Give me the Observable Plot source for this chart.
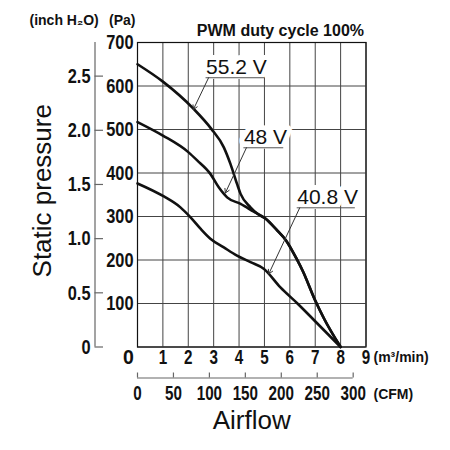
<!DOCTYPE html>
<html><head><meta charset="utf-8">
<script src="https://cdn.jsdelivr.net/npm/d3@7"></script>
<script src="https://cdn.jsdelivr.net/npm/@observablehq/plot@0.6"></script>
<style>
body{margin:0;background:#fff;}
#chart{width:450px;height:450px;}
</style></head><body><div id="chart"></div>
<script>
// Airflow (m³/min) and static pressure (Pa)
const airflow552 = [0, 1.0, 2.2, 2.9, 3.4, 3.66, 3.92, 4.06, 4.45, 4.75, 5.05, 5.5, 5.85, 6.3, 6.5, 7.0, 7.35, 8.0];
const pressure552 = [650, 610, 548, 502, 459, 421, 375, 352, 321, 305, 295, 268, 245, 199, 176, 107, 65, 0];
const airflow48 = [0, 1.0, 2.0, 2.35, 2.87, 3.2, 3.53, 4.06, 4.58, 5.05, 5.5, 5.85, 6.3, 6.5, 7.0, 7.35, 8.0];
const pressure48 = [517, 486, 448, 429, 398, 367, 344, 329, 311, 295, 268, 245, 199, 176, 107, 65, 0];
const airflow408 = [0, 1.04, 1.69, 2.09, 2.48, 2.87, 3.4, 3.92, 4.45, 4.97, 5.63, 6.3, 6.9, 8.0];
const pressure408 = [376, 346, 321, 298, 272, 249, 229, 210, 195, 180, 137, 100, 65, 0];

const seriesLabels = ["55.2 V", "48 V", "40.8 V"];
// callout anchors (data units): underline from x1 to x2 at y, arrow to (tipX, tipY)
const calloutX1 = [2.7, 4.19, 6.29];
const calloutX2 = [5.02, 5.76, 8.58];
const calloutY = [619, 458, 320];
const calloutTipX = [2.2, 3.46, 5.17];
const calloutTipY = [546, 354, 168];

const paTicks = [100, 200, 300, 400, 500, 600, 700];
const inchTicks = [0, 0.5, 1.0, 1.5, 2.0, 2.5];
const m3Ticks = [1, 2, 3, 4, 5, 6, 7, 8, 9];
const cfmTicks = [0, 50, 100, 150, 200, 250, 300];
const PA_PER_INCH = 249.089;
const M3MIN_PER_CFM = 0.0283168;

const series = [
  ...airflow552.map((x, i) => ({s: "55.2 V", x, y: pressure552[i]})),
  ...airflow48.map((x, i) => ({s: "48 V", x, y: pressure48[i]})),
  ...airflow408.map((x, i) => ({s: "40.8 V", x, y: pressure408[i]}))
];
const callouts = seriesLabels.map((label, i) => ({
  label, x1: calloutX1[i], x2: calloutX2[i], y: calloutY[i], tx: calloutTipX[i], ty: calloutTipY[i]
}));

const sans = "'Liberation Sans',Arial,Helvetica,sans-serif";
const gridColor = "#444";
const numStyle = {fontFamily: sans, fontWeight: "bold", fill: "#111"};

const chart = Plot.plot({
  width: 450, height: 450,
  marginLeft: 137, marginRight: 84.5, marginTop: 42, marginBottom: 103.5,
  x: {domain: [0, 9], axis: null},
  y: {domain: [0, 700], axis: null},
  style: {fontFamily: sans, background: "white", overflow: "visible"},
  marks: [
    Plot.gridX(d3.range(0, 10), {stroke: gridColor, strokeOpacity: 1, strokeWidth: 1}),
    Plot.gridY(d3.range(0, 701, 100), {stroke: gridColor, strokeOpacity: 1, strokeWidth: 1}),
    Plot.frame({stroke: "#111", strokeWidth: 1.2}),
    // Pa axis
    Plot.axisY(paTicks, {anchor: "left", tickSize: 0, tickPadding: 4, tickFormat: d => String(d),
      fontSize: 21, ...numStyle}),
    // inch H2O axis
    Plot.ruleX([0], {dx: -42.5, y1: 0, y2: 700, stroke: "#666", strokeWidth: 1.2}),
    Plot.axisY(inchTicks.map(v => v * PA_PER_INCH), {anchor: "left", dx: -34, tickSize: 8.5, tickPadding: 4.5,
      stroke: "#666", strokeWidth: 1.2,
      tickFormat: d => { const v = d / PA_PER_INCH; return Math.abs(v) < 1e-9 ? "0" : d3.format(".1f")(v); },
      fontSize: 21, ...numStyle}),
    // m3/min axis
    Plot.axisX(m3Ticks, {anchor: "bottom", tickSize: 0, tickPadding: 3.5, tickFormat: d => String(d),
      fontSize: 19.5, ...numStyle}),
    Plot.text(["0"], {x: 0, y: 0, dx: -9, dy: 3.5, lineAnchor: "top", ariaLabel: "narrow",
      fontSize: 19.5, ...numStyle}),
    // CFM axis
    Plot.ruleY([0], {x1: 0, x2: 300 * M3MIN_PER_CFM, dy: 31, stroke: "#666", strokeWidth: 1.2}),
    Plot.axisX(cfmTicks.map(c => c * M3MIN_PER_CFM), {anchor: "bottom", dy: 26, tickSize: 5, tickPadding: 8,
      stroke: "#666", strokeWidth: 1.2,
      tickFormat: d => String(Math.round(d / M3MIN_PER_CFM)),
      fontSize: 19.5, ...numStyle}),
    // unit labels
    Plot.text(["(inch H₂O)"], {frameAnchor: "top-left", dx: -108, dy: -22, textAnchor: "start", lineAnchor: "middle",
      fontSize: 14, fontWeight: "bold", fill: "#111"}),
    Plot.text(["(Pa)"], {frameAnchor: "top-left", dx: -2, dy: -22, textAnchor: "end", lineAnchor: "middle",
      fontSize: 14, fontWeight: "bold", fill: "#111"}),
    Plot.text(["PWM duty cycle 100%"], {frameAnchor: "top-right", dx: -2, dy: -12, textAnchor: "end", lineAnchor: "middle",
      fontSize: 16, fontWeight: "bold", fill: "#111"}),
    Plot.text(["(m³/min)"], {frameAnchor: "bottom-right", dx: 7.5, dy: 11, textAnchor: "start", lineAnchor: "middle",
      fontSize: 14, fontWeight: "bold", fill: "#111"}),
    Plot.text(["(CFM)"], {frameAnchor: "bottom-right", dx: 7.5, dy: 47.5, textAnchor: "start", lineAnchor: "middle",
      fontSize: 14, fontWeight: "bold", fill: "#111"}),
    Plot.text(["Airflow"], {frameAnchor: "bottom", dy: 74, textAnchor: "middle", lineAnchor: "middle", fontSize: 26, fill: "#111"}),
    Plot.text(["Static pressure"], {frameAnchor: "left", dx: -95.3, dy: -4, rotate: -90, textAnchor: "middle", lineAnchor: "middle",
      fontSize: 26, fill: "#111"}),
    // callout labels with white backing
    Plot.text(callouts, {x: "x1", y: "y", text: "label", textAnchor: "start", lineAnchor: "middle", dy: -10.7,
      fontSize: 21, fill: "#111", stroke: "white", strokeWidth: 10, strokeLinejoin: "round"}),
    // curves
    Plot.line(series, {x: "x", y: "y", z: "s", curve: "monotone-x", stroke: "#111", strokeWidth: 2.6}),
    // underlines and leaders
    Plot.ruleY(callouts, {y: "y", x1: "x1", x2: "x2", stroke: "#555", strokeWidth: 1}),
    Plot.arrow(callouts, {x1: d => d.x1 + 0.1, y1: "y", x2: "tx", y2: "ty", stroke: "#333", strokeWidth: 1, headLength: 7})
  ]
});

// condensed look for the numeric tick labels (as in the reference typeface)
function condense(el, s) {
  const t = el.getAttribute("transform");
  if (t) el.setAttribute("transform", t + ` scale(${s},1)`);
  else {
    const x = +el.getAttribute("x") || 0;
    el.setAttribute("transform", `translate(${x},0) scale(${s},1) translate(${-x},0)`);
  }
}
d3.select(chart).selectAll('g[aria-label="y-axis tick label"] text, g[aria-label="x-axis tick label"] text, g[aria-label="narrow"] text')
  .each(function() { condense(this, 0.78); });

document.getElementById("chart").append(chart);
</script>
</body></html>
